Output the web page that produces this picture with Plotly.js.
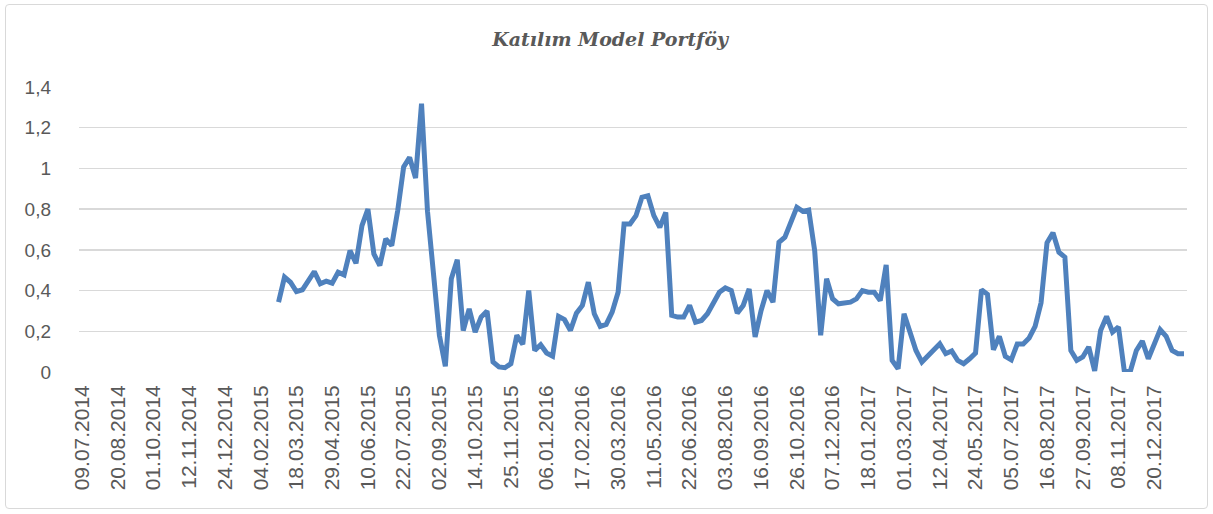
<!DOCTYPE html>
<html>
<head>
<meta charset="utf-8">
<script src="https://cdn.plot.ly/plotly-3.0.1.min.js"></script>
<style>
  html, body { margin: 0; padding: 0; background: #ffffff; }
  #wrap { position: relative; width: 1213px; height: 514px; }
  #chart { width: 1213px; height: 514px; }
  #frame { position: absolute; left: 5px; top: 4px; width: 1201px; height: 503px;
           border: 1px solid #d9d9d9; border-radius: 4px; pointer-events: none; }
</style>
</head>
<body>
<div id="wrap">
  <div id="chart"></div>
  <div id="frame"></div>
</div>
<script>
// Title
const chartTitle = "Katılım Model Portföy";

// Tick labels shown on the category axis (every 6th weekly observation)
const tickLabels = [
  "09.07.2014","20.08.2014","01.10.2014","12.11.2014","24.12.2014","04.02.2015",
  "18.03.2015","29.04.2015","10.06.2015","22.07.2015","02.09.2015","14.10.2015",
  "25.11.2015","06.01.2016","17.02.2016","30.03.2016","11.05.2016","22.06.2016",
  "03.08.2016","16.09.2016","26.10.2016","07.12.2016","18.01.2017","01.03.2017",
  "12.04.2017","24.05.2017","05.07.2017","16.08.2017","27.09.2017","08.11.2017",
  "20.12.2017"
];

// Weekly series values (no data before the 34th observation)
const seriesValues = [
  null,null,null,null,null,null,null,null,null,null,
  null,null,null,null,null,null,null,null,null,null,
  null,null,null,null,null,null,null,null,null,null,
  null,null,null,
  0.343,0.466,0.441,0.395,0.404,0.449,0.493,0.433,0.446,0.436,
  0.490,0.477,0.596,0.534,0.719,0.800,0.580,0.523,0.654,0.621,
  0.793,1.008,1.054,0.953,1.318,0.790,0.480,0.180,0.028,0.458,
  0.551,0.204,0.310,0.196,0.270,0.299,0.049,0.025,0.021,0.041,
  0.180,0.136,0.400,0.106,0.134,0.093,0.078,0.273,0.257,0.204,
  0.289,0.327,0.441,0.286,0.224,0.234,0.294,0.392,0.727,0.727,
  0.768,0.858,0.866,0.768,0.711,0.784,0.278,0.270,0.270,0.327,
  0.245,0.253,0.286,0.343,0.392,0.413,0.400,0.289,0.327,0.408,
  0.172,0.302,0.400,0.343,0.637,0.662,0.735,0.809,0.789,0.796,
  0.596,0.180,0.458,0.360,0.335,0.340,0.343,0.359,0.400,0.392,
  0.392,0.351,0.526,0.057,0.016,0.286,0.204,0.106,0.049,0.078,
  0.109,0.139,0.090,0.103,0.057,0.041,0.065,0.093,0.404,0.382,
  0.109,0.175,0.077,0.060,0.137,0.137,0.167,0.224,0.340,0.635,
  0.684,0.588,0.564,0.106,0.057,0.074,0.123,0.005,0.204,0.273,
  0.196,0.221,0.000,0.005,0.106,0.152,0.065,0.139,0.208,0.175,
  0.106,0.090,0.090
];

const xIndex = seriesValues.map((_, i) => i);
const tickPositions = tickLabels.map((_, i) => i * 6);

const yTickFont = { family: "Liberation Sans, Arial, sans-serif", size: 19, color: "#595959" };
const xTickFont = { family: "Liberation Sans, Arial, sans-serif", size: 21, color: "#595959" };

const trace = {
  type: "scatter",
  mode: "lines",
  x: xIndex,
  y: seriesValues,
  connectgaps: false,
  line: { color: "#4f81bd", width: 5, shape: "linear" },
  hoverinfo: "skip"
};

const layout = {
  width: 1213,
  height: 514,
  paper_bgcolor: "#ffffff",
  plot_bgcolor: "#ffffff",
  separators: ", ",
  showlegend: false,
  margin: { l: 79, r: 26, t: 87, b: 142, pad: 0 },
  title: {
    text: "<b><i>" + chartTitle + "</i></b>",
    font: { family: "DejaVu Serif, Liberation Serif, serif", size: 19, color: "#595959" },
    x: 0.503, xref: "container", xanchor: "center",
    y: 1, yref: "container", yanchor: "top", pad: { t: 33 }
  },
  xaxis: {
    type: "linear",
    range: [-0.5, seriesValues.length - 0.5],
    tickmode: "array",
    tickvals: tickPositions,
    ticktext: tickLabels,
    tickangle: -90,
    tickfont: xTickFont,
    showgrid: false,
    zeroline: false,
    showline: false,
    ticks: "",
    ticklabelstandoff: 8,
    fixedrange: true
  },
  yaxis: {
    range: [0, 1.4],
    dtick: 0.2,
    tick0: 0,
    tickfont: yTickFont,
    showgrid: true,
    gridcolor: "#d9d9d9",
    gridwidth: 1.3,
    zeroline: false,
    showline: false,
    ticks: "",
    ticklabelstandoff: 27,
    fixedrange: true
  }
};

Plotly.newPlot("chart", [trace], layout, { displayModeBar: false, staticPlot: true });
</script>
</body>
</html>
